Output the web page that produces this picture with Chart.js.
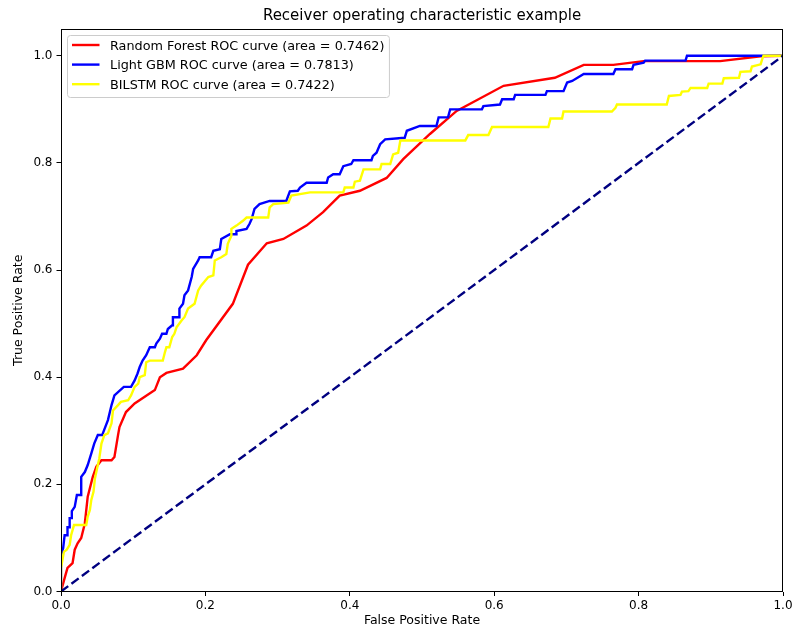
<!DOCTYPE html>
<html>
<head>
<meta charset="utf-8">
<title>Receiver operating characteristic example</title>
<script src="https://cdn.jsdelivr.net/npm/chart.js@4.4.0/dist/chart.umd.min.js"></script>
<style>
  html, body { margin: 0; padding: 0; background: #fff; }
  #wrap { width: 793px; height: 633px; position: relative; }
</style>
</head>
<body>
<div id="wrap"><canvas id="roc"></canvas></div>
<script>
// Text
const titleText = 'Receiver operating characteristic example';
const xTitle = 'False Positive Rate';
const yTitle = 'True Positive Rate';
const seriesLabels = [
    'Random Forest ROC curve (area = 0.7462)',
    'Light GBM ROC curve (area = 0.7813)',
    'BILSTM ROC curve (area = 0.7422)'
];

// Tick values
const xTicks = [0, 0.2, 0.4, 0.6, 0.8, 1.0];
const yTicks = [0, 0.2, 0.4, 0.6, 0.8, 1.0];

// Random Forest ROC
const rfFpr = [0, 0.005, 0.009, 0.016, 0.019, 0.023, 0.028, 0.033, 0.037, 0.044, 0.049, 0.056, 0.07, 0.074, 0.079,
    0.081, 0.09, 0.102, 0.13, 0.137, 0.146, 0.169, 0.188, 0.201, 0.238, 0.259, 0.285, 0.308, 0.34, 0.363, 0.386,
    0.414, 0.451, 0.474, 0.511, 0.548, 0.613, 0.684, 0.724, 0.765, 0.807, 0.913, 0.969, 1];
const rfTpr = [0, 0.025, 0.044, 0.053, 0.078, 0.09, 0.1, 0.127, 0.177, 0.214, 0.233, 0.245, 0.245, 0.251, 0.292,
    0.307, 0.335, 0.351, 0.376, 0.4, 0.408, 0.416, 0.441, 0.469, 0.537, 0.61, 0.65, 0.658, 0.683, 0.708, 0.739,
    0.748, 0.772, 0.807, 0.854, 0.897, 0.944, 0.959, 0.983, 0.983, 0.99, 0.99, 0.999, 1];

// Light GBM ROC
const lgbmFpr = [0, 0, 0.003, 0.005, 0.009, 0.009, 0.012, 0.012, 0.015, 0.015, 0.019, 0.022, 0.028, 0.028, 0.033,
    0.037, 0.042, 0.046, 0.051, 0.057, 0.065, 0.07, 0.074, 0.087, 0.097, 0.102, 0.106, 0.109, 0.113, 0.118, 0.123,
    0.13, 0.132, 0.137, 0.14, 0.146, 0.148, 0.154, 0.155, 0.164, 0.164, 0.169, 0.171, 0.176, 0.181, 0.183, 0.19,
    0.192, 0.208, 0.211, 0.22, 0.222, 0.234, 0.243, 0.243, 0.257, 0.261, 0.264, 0.268, 0.275, 0.289, 0.312, 0.317,
    0.328, 0.331, 0.34, 0.368, 0.37, 0.377, 0.386, 0.391, 0.402, 0.405, 0.43, 0.432, 0.437, 0.442, 0.449, 0.476,
    0.479, 0.497, 0.52, 0.523, 0.536, 0.539, 0.583, 0.585, 0.608, 0.611, 0.627, 0.629, 0.671, 0.673, 0.696, 0.701,
    0.708, 0.724, 0.765, 0.768, 0.791, 0.793, 0.807, 0.809, 0.865, 0.867, 1];
const lgbmTpr = [0, 0.068, 0.081, 0.105, 0.105, 0.12, 0.12, 0.137, 0.137, 0.15, 0.158, 0.18, 0.18, 0.214, 0.223,
    0.236, 0.258, 0.276, 0.292, 0.292, 0.32, 0.348, 0.366, 0.382, 0.382, 0.394, 0.407, 0.419, 0.431, 0.441, 0.456,
    0.456, 0.463, 0.472, 0.481, 0.481, 0.49, 0.497, 0.512, 0.512, 0.528, 0.537, 0.553, 0.562, 0.587, 0.602, 0.618,
    0.624, 0.624, 0.636, 0.639, 0.658, 0.667, 0.667, 0.673, 0.677, 0.686, 0.695, 0.714, 0.723, 0.729, 0.729, 0.747,
    0.748, 0.754, 0.763, 0.763, 0.773, 0.779, 0.779, 0.794, 0.798, 0.805, 0.805, 0.813, 0.819, 0.835, 0.844, 0.847,
    0.86, 0.869, 0.869, 0.885, 0.885, 0.9, 0.9, 0.906, 0.909, 0.919, 0.919, 0.927, 0.927, 0.934, 0.934, 0.95,
    0.953, 0.966, 0.966, 0.975, 0.975, 0.983, 0.987, 0.991, 0.991, 1, 1];

// BILSTM ROC
const lstmFpr = [0, 0, 0.004, 0.008, 0.012, 0.014, 0.018, 0.035, 0.037, 0.04, 0.042, 0.045, 0.047, 0.05, 0.053,
    0.056, 0.06, 0.065, 0.07, 0.072, 0.079, 0.083, 0.093, 0.097, 0.102, 0.107, 0.109, 0.116, 0.118, 0.123, 0.141,
    0.144, 0.146, 0.15, 0.154, 0.157, 0.16, 0.167, 0.171, 0.176, 0.185, 0.19, 0.194, 0.204, 0.211, 0.213, 0.222,
    0.229, 0.231, 0.236, 0.236, 0.243, 0.252, 0.257, 0.287, 0.289, 0.294, 0.315, 0.319, 0.345, 0.391, 0.393, 0.405,
    0.407, 0.414, 0.419, 0.442, 0.444, 0.456, 0.46, 0.467, 0.47, 0.56, 0.564, 0.592, 0.597, 0.675, 0.678, 0.694,
    0.696, 0.763, 0.768, 0.77, 0.839, 0.842, 0.858, 0.86, 0.869, 0.872, 0.895, 0.897, 0.916, 0.918, 0.939, 0.941,
    0.955, 0.957, 0.969, 0.971, 0.973, 1];
const lstmTpr = [0, 0.044, 0.074, 0.078, 0.087, 0.105, 0.124, 0.124, 0.14, 0.152, 0.171, 0.186, 0.211, 0.23, 0.248,
    0.276, 0.292, 0.295, 0.314, 0.338, 0.348, 0.354, 0.357, 0.366, 0.382, 0.388, 0.4, 0.404, 0.428, 0.431, 0.431,
    0.447, 0.456, 0.456, 0.475, 0.481, 0.493, 0.506, 0.512, 0.528, 0.537, 0.562, 0.571, 0.587, 0.59, 0.618, 0.624,
    0.63, 0.649, 0.664, 0.677, 0.683, 0.692, 0.698, 0.698, 0.717, 0.723, 0.726, 0.739, 0.745, 0.745, 0.754, 0.754,
    0.765, 0.767, 0.788, 0.788, 0.798, 0.798, 0.816, 0.819, 0.842, 0.842, 0.852, 0.852, 0.867, 0.867, 0.883, 0.883,
    0.896, 0.896, 0.903, 0.909, 0.909, 0.925, 0.927, 0.933, 0.934, 0.94, 0.94, 0.948, 0.948, 0.958, 0.959, 0.97,
    0.971, 0.98, 0.984, 0.993, 1, 1];

// Chance line
const chanceFpr = [0, 1];
const chanceTpr = [0, 1];

// Styles
const FONT = 'DejaVu Sans';
const seriesColors = ['#ff0000', '#0000ff', '#ffff00'];
const chanceColor = '#000080';
const LINE_W = 2.4;

function toPoints(xs, ys) {
    return xs.map((x, i) => ({ x: x, y: ys[i] }));
}

function curve(label, xs, ys, color, order) {
    return {
        label: label,
        data: toPoints(xs, ys),
        borderColor: color,
        backgroundColor: color,
        borderWidth: LINE_W,
        pointRadius: 0,
        tension: 0,
        fill: false,
        order: order
    };
}

// Title, full frame and the in-axes legend
const decorations = {
    id: 'decorations',
    afterDraw(chart) {
        const { ctx, chartArea: a } = chart;
        ctx.save();

        // frame on all four sides
        const l = Math.round(a.left) + 0.5, t = Math.round(a.top) + 0.5;
        const r = Math.round(a.right) - 0.5, b = Math.round(a.bottom) - 0.5;
        ctx.strokeStyle = '#000';
        ctx.lineWidth = 1;
        ctx.strokeRect(l, t, r - l, b - t);

        // title
        ctx.fillStyle = '#000';
        ctx.font = '15px "' + FONT + '"';
        ctx.textAlign = 'center';
        ctx.textBaseline = 'middle';
        ctx.fillText(titleText, (a.left + a.right) / 2, 16.5);

        // legend
        ctx.font = '12.8px "' + FONT + '"';
        const textW = Math.max(...seriesLabels.map(s => ctx.measureText(s).width));
        const bx = a.left + 6.5, by = a.top + 6.5;
        const bw = 42.5 + textW + 5, bh = 62;
        ctx.beginPath();
        ctx.roundRect(bx, by, bw, bh, 3);
        ctx.fillStyle = 'rgba(255,255,255,0.8)';
        ctx.fill();
        ctx.strokeStyle = '#cccccc';
        ctx.lineWidth = 1;
        ctx.stroke();

        ctx.textAlign = 'left';
        seriesLabels.forEach((s, i) => {
            const y = by + 9.5 + i * 19.6;
            ctx.beginPath();
            ctx.moveTo(bx + 4.5, y);
            ctx.lineTo(bx + 32, y);
            ctx.strokeStyle = seriesColors[i];
            ctx.lineWidth = LINE_W;
            ctx.stroke();
            ctx.fillStyle = '#000';
            ctx.fillText(s, bx + 42.5, y + 1.5);
        });
        ctx.restore();
    }
};

const tickFont = { family: FONT, size: 12 };
const labelFont = { family: FONT, size: 12.5 };

new Chart(document.getElementById('roc'), {
    type: 'line',
    data: {
        datasets: [
            curve(seriesLabels[0], rfFpr, rfTpr, seriesColors[0], 4),
            curve(seriesLabels[1], lgbmFpr, lgbmTpr, seriesColors[1], 3),
            curve(seriesLabels[2], lstmFpr, lstmTpr, seriesColors[2], 2),
            {
                label: 'chance',
                data: toPoints(chanceFpr, chanceTpr),
                borderColor: chanceColor,
                borderWidth: LINE_W,
                borderDash: [9, 4],
                pointRadius: 0,
                fill: false,
                order: 1
            }
        ]
    },
    options: {
        responsive: true,
        maintainAspectRatio: false,
        animation: false,
        events: [],
        layout: { padding: { top: 29, right: 10, left: 0, bottom: 0 } },
        plugins: {
            legend: { display: false },
            title: { display: false },
            tooltip: { enabled: false }
        },
        scales: {
            x: {
                type: 'linear',
                min: 0,
                max: 1,
                afterBuildTicks: scale => { scale.ticks = xTicks.map(v => ({ value: v })); },
                afterFit: scale => {
                    scale.height = 41.5;
                    scale.paddingLeft = 0;
                    scale.paddingRight = 0;
                },
                ticks: {
                    autoSkip: false,
                    maxRotation: 0,
                    color: '#000',
                    font: tickFont,
                    padding: 3,
                    callback: v => v.toFixed(1)
                },
                grid: { drawOnChartArea: false, drawTicks: true, tickLength: 4.5, color: '#000', lineWidth: 1 },
                border: { display: false },
                title: { display: true, text: xTitle, color: '#000', font: labelFont, padding: { top: 0, bottom: 4.5 } }
            },
            y: {
                min: 0,
                max: 1.05,
                afterBuildTicks: scale => { scale.ticks = yTicks.map(v => ({ value: v })); },
                afterFit: scale => {
                    scale.width = 61;
                    scale.paddingTop = 0;
                    scale.paddingBottom = 0;
                },
                ticks: {
                    autoSkip: false,
                    color: '#000',
                    font: tickFont,
                    padding: 4,
                    callback: v => v.toFixed(1)
                },
                grid: { drawOnChartArea: false, drawTicks: true, tickLength: 4.5, color: '#000', lineWidth: 1 },
                border: { display: false },
                title: { display: true, text: yTitle, color: '#000', font: labelFont, padding: { top: 11.5, bottom: 0 } }
            }
        }
    },
    plugins: [decorations]
});
</script>
</body>
</html>
